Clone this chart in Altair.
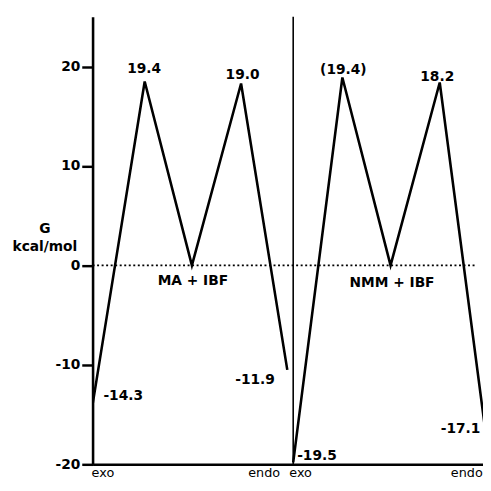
import altair as alt
import pandas as pd

FONT = "DejaVu Sans"

# Energy profile (stage position, G in kcal/mol)
left_x = [0.0, 1.06, 2.02, 3.02, 3.96]
left_g = [-14.0, 18.5, 0.0, 18.3, -10.5]
right_x = [4.08, 5.08, 6.06, 7.06, 8.0]
right_g = [-19.8, 18.9, 0.0, 18.4, -17.1]
panels = ["MA + IBF", "NMM + IBF"]

# barrier labels
peak_text = ["19.4", "19.0", "(19.4)", "18.2"]
peak_x = [1.05, 3.05, 5.10, 7.01]
peak_y = [19.75, 19.1, 19.65, 18.9]

# minimum labels (left aligned)
min_text = ["-14.3", "-11.9", "-19.5", "-17.1"]
min_x = [0.22, 2.90, 4.16, 7.08]
min_y = [-13.1, -11.5, -19.15, -16.5]

# intermediate labels
mid_text = ["MA + IBF", "NMM + IBF"]
mid_x = [2.04, 6.09]
mid_y = [-1.55, -1.75]

# axis labels
x_tick_values = [0.2, 3.48, 4.22, 7.6]
x_tick_labels = ["exo", "endo", "exo", "endo"]
y_tick_values = [-20, -10, 0, 10, 20]
y_tick_labels = ["-20", "-10", "0", "10", "20"]
divider_x = [4.08]
zero_line = {"x": [0.0], "x2": [7.78], "y": [0.0]}


def label_expr(values, labels):
    expr = "''"
    for v, l in reversed(list(zip(values, labels))):
        expr = f"abs(datum.value - ({v})) < 0.001 ? '{l}' : ({expr})"
    return expr


line_df = pd.DataFrame({
    "u": left_x + right_x,
    "G": left_g + right_g,
    "panel": [panels[0]] * len(left_x) + [panels[1]] * len(right_x),
})
peak_df = pd.DataFrame({"u": peak_x, "G": peak_y, "t": peak_text})
min_df = pd.DataFrame({"u": min_x, "G": min_y, "t": min_text})
mid_df = pd.DataFrame({"u": mid_x, "G": mid_y, "t": mid_text})
div_df = pd.DataFrame({"u": divider_x})
zero_df = pd.DataFrame(zero_line)

x_scale = alt.Scale(domain=[0, 7.94], nice=False, zero=False)
y_scale = alt.Scale(domain=[-20, 25], nice=False, zero=False)

x_enc = alt.X(
    "u:Q", scale=x_scale,
    axis=alt.Axis(
        values=x_tick_values, labelExpr=label_expr(x_tick_values, x_tick_labels),
        ticks=False, title=None, domainWidth=2.6, labelPadding=2,
        labelFontWeight="normal", labelFontSize=13, labelAlign="center",
        labelBaseline="top",
    ),
)
y_enc = alt.Y(
    "G:Q", scale=y_scale,
    axis=alt.Axis(
        values=y_tick_values, labelExpr=label_expr(y_tick_values, y_tick_labels),
        tickSize=11, tickWidth=2.5, domainWidth=2.6, labelPadding=2,
        title=["G", "kcal/mol"], titleAngle=0, titleAlign="center",
        titleBaseline="top", titleX=-49, titleY=208, titleLineHeight=19,
        titleFont=FONT, titleFontSize=14, titleFontWeight="bold",
    ),
)

lines = alt.Chart(line_df).mark_line(
    color="black", strokeWidth=2.6, clip=True
).encode(x=x_enc, y=y_enc, detail="panel:N", order="u:Q")

zero = alt.Chart(zero_df).mark_rule(
    color="black", strokeWidth=1.8, strokeDash=[2, 2.6]
).encode(x="x:Q", x2="x2:Q", y="y:Q")

divider = alt.Chart(div_df).mark_rule(color="black", strokeWidth=1.6).encode(x="u:Q")

txt = dict(font=FONT, fontSize=14, fontWeight="bold", color="black")
peaks = alt.Chart(peak_df).mark_text(align="center", baseline="middle", **txt).encode(
    x="u:Q", y="G:Q", text="t:N")
mins = alt.Chart(min_df).mark_text(align="left", baseline="middle", **txt).encode(
    x="u:Q", y="G:Q", text="t:N")
mids = alt.Chart(mid_df).mark_text(align="center", baseline="middle", **txt).encode(
    x="u:Q", y="G:Q", text="t:N")

chart = alt.layer(lines, zero, divider, peaks, mins, mids).properties(
    width=397, height=455,
    autosize=alt.AutoSizeParams(type="none"),
    padding={"left": 86, "top": 5, "right": 0, "bottom": 15},
).configure_view(stroke=None).configure_axis(
    grid=False, domainColor="black", tickColor="black", labelColor="black",
    labelFont=FONT, labelFontSize=14, labelFontWeight="bold", titleColor="black",
)

chart.save("out.html", embed_options={"renderer": "svg", "actions": False})
